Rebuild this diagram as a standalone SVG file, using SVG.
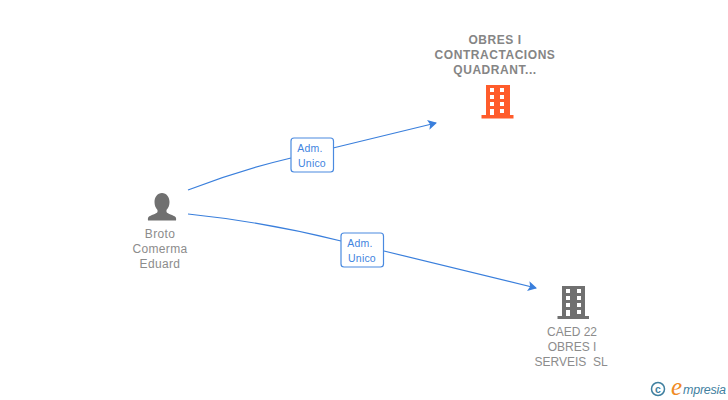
<svg xmlns="http://www.w3.org/2000/svg" width="728" height="400" viewBox="0 0 728 400">
<style>
.lbl{font-family:"Liberation Sans",Arial,sans-serif;font-size:12px;letter-spacing:.35px;fill:#8c8c8c;text-anchor:middle}
.n{letter-spacing:0}
.b{font-weight:bold;letter-spacing:.55px;fill:#858585}
.edge{fill:none;stroke:#3a7fdc;stroke-width:1.200}
.box{fill:#fff;stroke:#4a8ae0;stroke-width:1.200}
.tag{font-family:"Liberation Sans",Arial,sans-serif;font-size:10.500px;letter-spacing:.2px;fill:#3f84e0;text-anchor:middle}
</style>
<defs>
<marker id="arrow" markerUnits="userSpaceOnUse" markerWidth="11" markerHeight="12" refX="8" refY="6" orient="auto">
<path d="M0 1L9 6L0 11L2 6Z" fill="#3a7fdc"/>
</marker>
</defs>
<rect width="728" height="400" fill="#fff"/>
<g id="connectors">
<path class="edge" marker-end="url(#arrow)" d="M188 190Q240 170 291 158M333 148L436 123"/>
<path class="edge" marker-end="url(#arrow)" d="M188 214Q265 222 341 241M384 251L536 288"/>
</g>
<g id="label1"><rect class="box" x="291" y="138" width="42.500" height="34" rx="3"/><text class="tag" x="310" y="152">Adm.</text><text class="tag" x="312" y="167">Unico</text></g>
<g id="label2"><rect class="box" x="341" y="233" width="42.500" height="34" rx="3"/><text class="tag" x="360" y="247">Adm.</text><text class="tag" x="362" y="262">Unico</text></g>
<g id="person">
<path fill="#707070" d="M162 193c-4.500 0-7.500 4-7.500 9 0 3 1 6 3 8v2c-1 2-7 3-9 5-1 1-.5 3.500-.5 3.500h28s.5-2.500-.5-3.500c-2-2-8-3-9-5v-2c2-2 3-5 3-8 0-5-3-9-7.500-9z"/>
<text class="lbl" x="160" y="238">Broto</text><text class="lbl" x="160" y="253">Comerma</text><text class="lbl" x="160" y="268">Eduard</text>
</g>
<g id="company1">
<text class="lbl b" x="495" y="44">OBRES I</text><text class="lbl b" x="495" y="59">CONTRACTACIONS</text><text class="lbl b" x="495" y="74">QUADRANT...</text>
<path fill="#ff5c2b" fill-rule="evenodd" d="M486 85H510V115H513.500V118.500H481.500V115H486ZM490 88V92H494V88ZM500 88V92H504V88ZM490 95V99H494V95ZM500 95V99H504V95ZM490 102V106H494V102ZM500 102V106H504V102ZM490 109V115H494V109ZM500 109V113H504V109Z"/>
</g>
<g id="company2">
<path fill="#707070" fill-rule="evenodd" d="M562 286H585V316H589V319H557.500V316H562ZM566 289V293H570V289ZM577 289V293H581V289ZM566 296V300H570V296ZM577 296V300H581V296ZM566 303V307H570V303ZM577 303V307H581V303ZM566 310V316H570V310ZM577 310V314H581V310Z"/>
<text class="lbl n" x="572" y="336">CAED 22</text><text class="lbl n" x="572" y="351">OBRES I</text><text class="lbl n" x="571" y="366" xml:space="preserve">SERVEIS  SL</text>
</g>
<g id="logo">
<circle cx="658" cy="389" r="6.500" fill="none" stroke="#3f7f9f" stroke-width="1.500"/>
<text x="658" y="392.500" font-family="Liberation Sans,sans-serif" font-size="10.500" font-weight="bold" fill="#3f7f9f" text-anchor="middle">c</text>
<text x="671" y="395" font-family="Liberation Serif,serif" font-style="italic" font-size="25" fill="#f08a24">e</text>
<text x="683" y="394" font-family="Liberation Sans,sans-serif" font-style="italic" font-size="12.500" fill="#3f7f9f" textLength="43">mpresia</text>
</g>
</svg>
